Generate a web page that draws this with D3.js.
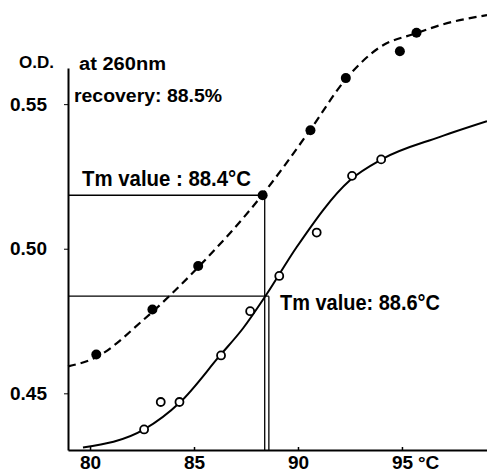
<!DOCTYPE html>
<html><head><meta charset="utf-8">
<script src="https://cdn.jsdelivr.net/npm/d3@7"></script>
<style>body{margin:0;background:#fff}svg{display:block}text{font-family:"Liberation Sans",Arial,sans-serif;fill:#000;font-weight:bold}</style>
</head><body><svg id="c" width="487" height="473"></svg>
<script>
// Native DNA (filled circles, dashed curve)
const tempsFilled = [80.3, 83.0, 85.2, 88.3, 90.6, 92.3, 94.9, 95.7];
const odFilled    = [0.4634, 0.479, 0.494, 0.5185, 0.541, 0.559, 0.5683, 0.5747];
// Recovered DNA (open circles, solid curve)
const tempsOpen = [82.6, 83.4, 84.3, 86.3, 87.7, 89.1, 90.9, 92.6, 94.0];
const odOpen    = [0.4375, 0.447, 0.447, 0.4631, 0.4784, 0.4906, 0.5056, 0.5252, 0.5309];
// fitted curves
const curveTempsDashed = [78.94, 80.3, 82.55, 85.24, 88.27, 90.58, 92.34, 93.94, 95.72, 96.83, 99.09];
const curveOdDashed    = [0.4593, 0.4625, 0.4753, 0.4939, 0.5185, 0.541, 0.559, 0.5697, 0.5746, 0.5773, 0.5808];
const curveTempsSolid = [79.66, 82.6, 84.33, 86.25, 87.36, 88.46, 89.94, 92.5, 94.02, 96.83, 99.09];
const curveOdSolid    = [0.4313, 0.4375, 0.4469, 0.4631, 0.4725, 0.4839, 0.5006, 0.5237, 0.5309, 0.5387, 0.5441];
// Tm markers
const tmTemps = [88.4, 88.6];
const tmOds   = [0.5185, 0.4836];
const tmLabels = ["Tm value : 88.4°C", "Tm value: 88.6°C"];
// ticks
const xTicks = [80, 85, 90, 95];
const xTickLabels = ["80", "85", "90", "95"];
const yTicks = [0.45, 0.50, 0.55];
const yTickLabels = ["0.45", "0.50", "0.55"];

const svg = d3.select("#c");
const x = d3.scaleLinear().domain([78.94, 99.09]).range([68, 487]);
const y = d3.scaleLinear().domain([0.4304, 0.5625]).range([450, 68]);

// Tm guide lines
tmTemps.forEach((t, i) => {
  svg.append("line").attr("x1", x(78.94)).attr("x2", x(t)).attr("y1", y(tmOds[i])).attr("y2", y(tmOds[i]))
    .attr("stroke", "#000").attr("stroke-width", 1.3);
  svg.append("line").attr("x1", x(t)).attr("x2", x(t)).attr("y1", y(tmOds[i])).attr("y2", y(0.4304))
    .attr("stroke", "#000").attr("stroke-width", 1.3);
});

// axes
const xAxis = d3.axisBottom(x).tickValues(xTicks).tickSizeInner(-3).tickSizeOuter(0)
  .tickFormat((d, i) => xTickLabels[i]);
const gx = svg.append("g").attr("transform", `translate(0,${y(0.4304)})`).call(xAxis);
gx.select(".domain").attr("stroke-width", 2.2);
gx.selectAll(".tick line").attr("stroke-width", 1.5);
gx.selectAll(".tick text").attr("font-size", 19).attr("dy", 0).attr("y", 19).attr("font-family", "Liberation Sans");
svg.append("text").attr("x", x(95) + 16).attr("y", y(0.4304) + 19).attr("font-size", 19).text("°C");

const yAxis = d3.axisLeft(y).tickValues(yTicks).tickSizeInner(4).tickSizeOuter(0)
  .tickFormat((d, i) => yTickLabels[i]);
const gy = svg.append("g").attr("transform", `translate(${x(78.94)},0)`).call(yAxis);
gy.select(".domain").attr("stroke-width", 2);
gy.selectAll(".tick text").attr("font-size", 19).attr("x", -21).attr("font-family", "Liberation Sans");

// curves
const line = d3.line().x(d => x(d[0])).y(d => y(d[1])).curve(d3.curveMonotoneX);
svg.append("path").datum(curveTempsDashed.map((t, i) => [t, curveOdDashed[i]]))
  .attr("d", line).attr("fill", "none").attr("stroke", "#000").attr("stroke-width", 2.2)
  .attr("stroke-dasharray", "8,5");
svg.append("path").datum(curveTempsSolid.map((t, i) => [t, curveOdSolid[i]]))
  .attr("d", line).attr("fill", "none").attr("stroke", "#000").attr("stroke-width", 2);

// points
svg.selectAll("circle.f").data(tempsFilled).join("circle").attr("class", "f")
  .attr("cx", d => x(d)).attr("cy", (d, i) => y(odFilled[i])).attr("r", 5).attr("fill", "#000");
svg.selectAll("circle.o").data(tempsOpen).join("circle").attr("class", "o")
  .attr("cx", d => x(d)).attr("cy", (d, i) => y(odOpen[i])).attr("r", 4)
  .attr("fill", "#fff").attr("stroke", "#000").attr("stroke-width", 1.8);

// texts
const fit = "spacingAndGlyphs";
svg.append("text").attr("x", 19).attr("y", 68).style("font-size", "17px").text("O.D.");
svg.append("text").attr("x", 79).attr("y", 70).style("font-size", "18px").attr("textLength", 87).attr("lengthAdjust", fit).text("at 260nm");
svg.append("text").attr("x", 74).attr("y", 102).style("font-size", "19px").attr("textLength", 148).attr("lengthAdjust", fit).text("recovery: 88.5%");
svg.append("text").attr("x", 82).attr("y", 186).style("font-size", "22px").attr("textLength", 169).attr("lengthAdjust", fit).text(tmLabels[0]);
svg.append("text").attr("x", 280).attr("y", 310).style("font-size", "22px").attr("textLength", 160).attr("lengthAdjust", fit).text(tmLabels[1]);
</script></body></html>
